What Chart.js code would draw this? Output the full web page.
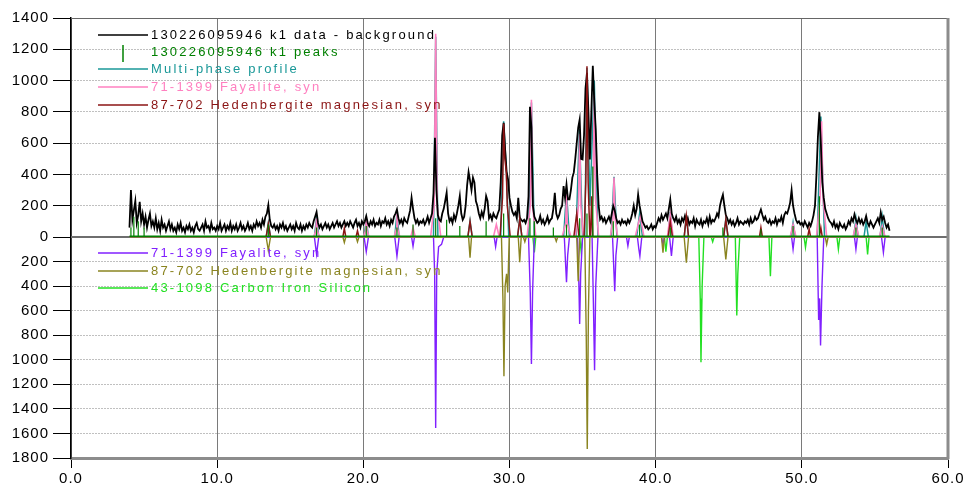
<!DOCTYPE html>
<html>
<head>
<meta charset="utf-8">
<script src="https://cdn.jsdelivr.net/npm/chart.js@4.4.1/dist/chart.umd.min.js"></script>
<style>
html, body { margin: 0; padding: 0; background: #fff; }
canvas { display: block; }
</style>
</head>
<body>
<canvas id="xrd" width="965" height="486"></canvas>
<script>
// measured pattern (data - background), 2theta 4.0 .. 56.0 every 0.1 deg
var scanStart = 4.0;
var scanStep = 0.1;
var measured = [
  60, 300, 110, 170, 230, 90, 140, 225, 100, 150,   // 4
  80, 130, 60, 110, 150, 70, 100, 60, 120, 50,      // 5
  90, 40, 110, 60, 80, 40, 70, 100, 50, 80,         // 6
  40, 60, 30, 80, 50, 90, 40, 60, 30, 70,           // 7
  50, 80, 40, 60, 30, 70, 90, 50, 40, 60,           // 8
  80, 40, 100, 60, 70, 40, 90, 50, 60, 40,          // 9
  70, 50, 90, 40, 60, 80, 40, 70, 50, 90,           // 10
  40, 70, 50, 80, 40, 60, 90, 50, 70, 40,           // 11
  60, 90, 50, 70, 40, 80, 60, 100, 70, 90,          // 12
  60, 110, 80, 130, 150, 205, 110, 70, 60, 80,      // 13
  50, 70, 40, 80, 60, 90, 50, 70, 40, 60,           // 14
  80, 50, 70, 40, 90, 60, 50, 80, 40, 70,           // 15
  50, 80, 60, 90, 70, 60, 100, 130, 160, 90,        // 16
  60, 80, 50, 70, 90, 60, 80, 50, 70, 90,           // 17
  60, 80, 100, 70, 90, 60, 80, 100, 70, 90,         // 18
  70, 100, 80, 60, 90, 110, 70, 90, 60, 100,        // 19
  80, 100, 134, 90, 70, 100, 80, 110, 70, 90,       // 20
  80, 110, 70, 100, 90, 120, 80, 100, 70, 110,      // 21
  90, 130, 150, 177, 120, 90, 110, 80, 120, 100,    // 22
  90, 130, 170, 252, 180, 120, 90, 110, 80, 100,    // 23
  90, 110, 80, 100, 130, 90, 120, 150, 280, 635,    // 24
  300, 140, 110, 100, 150, 180, 230, 283, 150, 100, // 25
  120, 90, 140, 110, 150, 200, 262, 150, 110, 130,  // 26
  200, 330, 415, 360, 300, 380, 349, 230, 200, 150, // 27
  120, 160, 130, 180, 262, 230, 120, 140, 110, 150, // 28
  130, 120, 150, 176, 350, 650, 730, 560, 420, 368, // 29
  250, 200, 160, 140, 157, 120, 250, 125, 110, 100, // 30
  110, 90, 120, 260, 833, 700, 200, 130, 110, 90,   // 31
  100, 135, 90, 110, 80, 100, 130, 90, 110, 120,    // 32
  180, 283, 150, 120, 140, 180, 200, 326, 250, 336, // 33
  240, 240, 300, 380, 413, 500, 600, 700, 751, 500, // 34
  496, 650, 950, 1050, 800, 496, 800, 1095, 868, 687, // 35
  400, 200, 113, 130, 100, 120, 90, 110, 130, 100,  // 36
  150, 198, 170, 120, 90, 100, 80, 110, 90, 100,    // 37
  80, 110, 90, 113, 150, 200, 140, 180, 271, 200,   // 38
  150, 100, 80, 60, 70, 49, 60, 80, 50, 70,         // 39
  60, 90, 120, 100, 140, 110, 130, 150, 120, 180,   // 40
  240, 150, 120, 100, 130, 90, 110, 80, 120, 100,   // 41
  134, 90, 120, 80, 100, 90, 120, 70, 110, 90,      // 42
  80, 110, 70, 100, 90, 120, 80, 130, 90, 110,      // 43
  100, 120, 150, 130, 200, 240, 270, 200, 140, 120, // 44
  90, 110, 80, 100, 70, 90, 120, 80, 100, 90,       // 45
  80, 100, 90, 110, 80, 120, 90, 100, 130, 110,     // 46
  120, 150, 176, 140, 110, 130, 100, 90, 110, 80,   // 47
  100, 90, 120, 80, 110, 100, 130, 90, 140, 160,    // 48
  150, 180, 220, 300, 200, 150, 110, 90, 100, 80,   // 49
  90, 70, 100, 80, 60, 90, 70, 100, 140, 200,       // 50
  400, 640, 798, 600, 350, 250, 180, 150, 120, 100, // 51
  90, 70, 100, 60, 80, 50, 90, 70, 60, 80,          // 52
  50, 70, 100, 80, 120, 100, 145, 110, 90, 120,     // 53
  90, 110, 80, 100, 134, 90, 70, 100, 80, 60,       // 54
  80, 100, 120, 90, 157, 110, 130, 90, 60, 80,      // 55
  40                                                // 56
];

// peak search result: positions and marker heights
var peakPos = [4.1, 4.3, 4.6, 5.0, 13.5, 16.8, 20.2, 22.3, 23.4, 24.95, 25.7, 26.6, 28.4, 29.6, 31.4,
               31.7, 33.0, 33.9, 34.8, 35.3, 35.7, 37.1, 38.9, 41.0, 44.6, 47.2, 49.4, 51.2, 53.7, 55.5];
var peakHt  = [60, 130, 100, 60, 80, 60, 70, 60, 80, 120, 110, 70, 100, 150, 120,
               100, 60, 80, 120, 150, 450, 100, 80, 60, 60, 50, 70, 260, 60, 60];

// multi-phase profile
var profilePts = [[4,0],[13.35,0],[13.5,90],[13.65,0],[16.65,0],[16.8,125],[16.95,0],[20.05,0],[20.2,115],[20.35,0],
  [22.15,0],[22.3,155],[22.45,0],[24.8,0],[24.95,1280],[25.1,0],[27.15,0],[27.3,105],[27.45,0],[29.4,0],[29.6,740],
  [29.78,430],[29.95,0],[30.55,0],[30.7,120],[30.85,0],[31.3,0],[31.5,860],[31.7,0],[33.7,0],[33.9,290],[34.1,0],
  [34.55,0],[34.78,690],[35.0,0],[35.15,0],[35.3,1080],[35.5,200],[35.8,1000],[36.05,0],[36.95,0],[37.15,385],
  [37.35,0],[38.7,0],[38.9,150],[39.1,0],[40.85,0],[41.0,160],[41.15,0],[41.95,0],[42.1,140],[42.25,0],[44.65,0],
  [44.8,115],[44.95,0],[49.25,0],[49.4,95],[49.55,0],[51.05,0],[51.3,770],[51.55,0],[53.55,0],[53.7,120],[53.85,0],
  [54.25,0],[54.4,100],[54.55,0],[55.35,0],[55.5,130],[55.65,0],[56,0]];

// 71-1399 Fayalite, syn (fitted, upper)
var fayalitePts = [[4,0],[16.6,0],[16.75,40],[16.8,120],[16.85,40],[17.0,0],[20.0,0],[20.15,40],[20.2,110],[20.25,40],
  [20.4,0],[22.1,0],[22.25,50],[22.3,150],[22.35,50],[22.5,0],[23.25,0],[23.4,60],[23.55,0],[24.6,0],[24.85,200],
  [24.95,1300],[25.05,200],[25.3,0],[28.9,0],[29.1,80],[29.3,0],[31.2,0],[31.42,200],[31.5,878],[31.58,200],[31.8,0],
  [33.6,0],[33.85,90],[33.9,280],[33.95,90],[34.2,0],[34.5,0],[34.72,200],[34.8,660],[34.88,200],[35.05,0],[35.5,0],
  [35.72,250],[35.8,910],[35.88,250],[36.1,0],[36.9,0],[37.08,120],[37.15,380],[37.22,120],[37.4,0],[38.6,0],
  [38.85,100],[38.95,134],[39.2,0],[40.8,0],[41.0,145],[41.2,0],[49.2,0],[49.4,80],[49.6,0],[51.0,0],[51.25,250],
  [51.35,740],[51.45,250],[51.7,0],[53.5,0],[53.7,80],[53.9,0],[55.3,0],[55.5,70],[55.7,0],[56,0]];

// 87-702 Hedenbergite magnesian, syn (fitted, upper)
var hedenPts = [[4,0],[13.35,0],[13.5,85],[13.65,0],[18.6,0],[18.7,55],[18.8,0],[19.5,0],[19.6,40],[19.7,0],
  [27.15,0],[27.3,100],[27.45,0],[29.35,0],[29.52,250],[29.6,725],[29.68,500],[29.78,420],[29.85,200],[30.05,0],
  [30.55,0],[30.7,115],[30.85,0],[34.4,0],[34.6,150],[34.75,0],[35.1,0],[35.22,350],[35.3,1091],[35.38,350],
  [35.5,0],[35.55,0],[35.62,260],[35.7,0],[40.85,0],[41.0,100],[41.15,0],[41.95,0],[42.1,134],[42.25,0],[44.65,0],
  [44.8,112],[44.95,0],[47.1,0],[47.2,60],[47.3,0],[50.4,0],[50.5,50],[50.6,0],[51.2,0],[51.3,60],[51.4,0],[56,0]];

// reference patterns, drawn downward
var fayaliteRef = [[4,0],[16.65,0],[16.8,-140],[16.95,0],[20.05,0],[20.2,-120],[20.35,0],[22.15,0],[22.3,-155],
  [22.45,0],[23.3,0],[23.4,-75],[23.5,0],[24.8,0],[24.88,-300],[24.95,-1555],[25.02,-300],[25.15,-80],[25.35,-60],
  [25.5,0],[28.95,0],[29.05,-80],[29.15,0],[31.3,0],[31.42,-450],[31.5,-1035],[31.58,-450],[31.7,0],[33.75,0],
  [33.85,-250],[33.9,-368],[33.98,-150],[34.1,0],[34.65,0],[34.75,-400],[34.8,-708],[34.87,-300],[35.0,0],[35.65,0],
  [35.75,-600],[35.82,-1085],[35.9,-400],[36.05,0],[37.05,0],[37.15,-300],[37.2,-442],[37.28,-150],[37.4,0],
  [38.0,0],[38.1,-73],[38.2,0],[38.75,0],[38.85,-100],[38.92,-155],[39.05,0],[40.4,0],[40.5,-60],[40.6,0],[40.95,0],
  [41.08,-155],[41.2,0],[49.3,0],[49.4,-100],[49.5,0],[51.05,0],[51.15,-675],[51.22,-500],[51.28,-883],[51.38,-400],
  [51.5,0],[53.6,0],[53.7,-100],[53.8,0],[55.45,0],[55.58,-127],[55.7,0],[56,0]];

var hedenRef = [[4,0],[13.35,0],[13.5,-110],[13.65,0],[18.6,0],[18.7,-45],[18.8,0],[19.5,0],[19.6,-40],[19.7,0],
  [27.2,0],[27.3,-168],[27.4,0],[29.45,0],[29.55,-500],[29.62,-1134],[29.7,-400],[29.8,-300],[29.88,-452],[29.98,0],
  [30.6,0],[30.7,-205],[30.8,0],[30.95,0],[31.05,-40],[31.15,0],[33.1,0],[33.2,-35],[33.3,0],[34.6,0],[34.7,-360],
  [34.8,0],[35.15,0],[35.25,-800],[35.32,-1726],[35.4,-600],[35.5,0],[40.4,0],[40.5,-127],[40.6,0],[41.95,0],
  [42.1,-210],[42.25,0],[44.65,0],[44.8,-182],[44.95,0],[51.6,0],[51.7,-60],[51.8,0],[56,0]];

var carbonRef = [[4,0],[31.6,0],[31.7,-125],[31.8,0],[34.8,0],[34.9,-117],[35.0,0],[40.6,0],[40.7,-120],[40.8,0],
  [42.95,0],[43.05,-500],[43.1,-1021],[43.18,-400],[43.3,0],[43.8,0],[43.9,-40],[44.0,0],[45.45,0],[45.55,-640],
  [45.62,-300],[45.75,0],[47.75,0],[47.85,-320],[47.95,0],[50.15,0],[50.25,-85],[50.35,0],[52.4,0],[52.5,-100],
  [52.6,0],[54.4,0],[54.5,-142],[54.6,0],[56,0]];

var xTicks = [0, 10, 20, 30, 40, 50, 60];

function pts(list) {
  return list.map(function (p) { return {x: p[0], y: p[1]}; });
}

var measuredData = measured.map(function (v, i) {
  return {x: +(scanStart + i * scanStep).toFixed(2), y: v};
});

var peakData = [{x: 4, y: 0}];
for (var i = 0; i < peakPos.length; i++) {
  peakData.push({x: peakPos[i], y: 0}, {x: peakPos[i], y: peakHt[i]}, {x: peakPos[i], y: 0});
}
peakData.push({x: 56, y: 0});

var FONT = 'Liberation Sans';

var legendRows = [
  {text: '130226095946 k1 data - background', color: '#000000', y: 35, tick: false},
  {text: '130226095946 k1 peaks', color: '#008000', y: 52, tick: true},
  {text: 'Multi-phase profile', color: '#1a9898', y: 69, tick: false},
  {text: '71-1399 Fayalite, syn', color: '#ff80c0', y: 87, tick: false},
  {text: '87-702 Hedenbergite magnesian, syn', color: '#8b1414', y: 105, tick: false},
  {text: '71-1399 Fayalite, syn', color: '#8020ff', y: 253, tick: false},
  {text: '87-702 Hedenbergite magnesian, syn', color: '#8a8420', y: 271, tick: false},
  {text: '43-1098 Carbon Iron Silicon', color: '#22e022', y: 288, tick: false}
];

var framePlugin = {
  id: 'frame',
  beforeDraw: function (chart) {
    chart.ctx.letterSpacing = '1px';
  },
  beforeDatasetsDraw: function (chart) {
    var ctx = chart.ctx, a = chart.chartArea;
    var y0 = chart.scales.yTop.getPixelForValue(0);
    ctx.save();
    ctx.strokeStyle = '#6e6e6e';
    ctx.lineWidth = 2;
    ctx.beginPath();
    ctx.moveTo(a.left, y0);
    ctx.lineTo(a.right, y0);
    ctx.stroke();
    ctx.lineWidth = 1;
    ctx.strokeStyle = '#666';
    ctx.beginPath();
    ctx.moveTo(a.left, a.top + 0.5);
    ctx.lineTo(a.right, a.top + 0.5);
    ctx.stroke();
    ctx.lineWidth = 3;
    ctx.strokeStyle = '#8c8c8c';
    ctx.beginPath();
    ctx.moveTo(a.right, a.top);
    ctx.lineTo(a.right, a.bottom + 1);
    ctx.stroke();
    ctx.restore();
  },
  afterDraw: function (chart) {
    var ctx = chart.ctx;
    ctx.save();
    ctx.letterSpacing = '2.2px';
    ctx.font = '13px "' + FONT + '"';
    ctx.textBaseline = 'middle';
    ctx.textAlign = 'left';
    legendRows.forEach(function (r) {
      ctx.strokeStyle = r.color;
      ctx.lineWidth = 1.5;
      ctx.beginPath();
      if (r.tick) {
        ctx.moveTo(123, r.y - 7);
        ctx.lineTo(123, r.y + 10);
      } else {
        ctx.moveTo(98, r.y);
        ctx.lineTo(148, r.y);
      }
      ctx.stroke();
      ctx.fillStyle = r.color;
      ctx.fillText(r.text, 151, r.y);
    });
    ctx.restore();
  }
};

function lineSet(label, data, color, width, order, axis) {
  return {
    label: label,
    data: data,
    borderColor: color,
    borderWidth: width,
    pointRadius: 0,
    tension: 0,
    fill: false,
    order: order,
    yAxisID: axis
  };
}

var peaksSet = lineSet('130226095946 k1 peaks', peakData, '#008000', 1.2, 0, 'yTop');
peaksSet.segment = {
  borderWidth: function (c) { return (c.p0.parsed.y === 0 && c.p1.parsed.y === 0) ? 3 : 1.2; }
};

var yGrid = {color: '#808080', lineWidth: 1, tickLength: 18, tickColor: '#000', tickWidth: 1};
var yTicks = {color: '#000', font: {family: FONT, size: 15}, padding: 4, stepSize: 200, autoSkip: false};

new Chart(document.getElementById('xrd'), {
  type: 'line',
  data: {
    datasets: [
      peaksSet,
      lineSet('87-702 Hedenbergite magnesian, syn', pts(hedenPts), '#8b1414', 1.5, 1, 'yTop'),
      lineSet('130226095946 k1 data - background', measuredData, '#000000', 1.8, 2, 'yTop'),
      lineSet('71-1399 Fayalite, syn', pts(fayalitePts), '#ff80c0', 1.6, 3, 'yTop'),
      lineSet('Multi-phase profile', pts(profilePts), '#1a9898', 1.5, 4, 'yTop'),
      lineSet('87-702 Hedenbergite magnesian, syn', pts(hedenRef), '#8a8420', 1.4, 5, 'yBot'),
      lineSet('71-1399 Fayalite, syn', pts(fayaliteRef), '#8020ff', 1.4, 6, 'yBot'),
      lineSet('43-1098 Carbon Iron Silicon', pts(carbonRef), '#22e022', 1.4, 7, 'yBot')
    ]
  },
  options: {
    responsive: false,
    animation: false,
    layout: {padding: {top: 18, right: 17, left: 0, bottom: 0}},
    plugins: {legend: {display: false}, tooltip: {enabled: false}},
    scales: {
      x: {
        type: 'linear', min: 0, max: 60,
        afterBuildTicks: function (s) { s.ticks = xTicks.map(function (v) { return {value: v}; }); },
        ticks: {color: '#000', font: {family: FONT, size: 15}, padding: 2, maxRotation: 0, autoSkip: false,
                callback: function (v) { return Number(v).toFixed(1); }},
        grid: {color: '#7a7a7a', lineWidth: 1, tickLength: 10, tickColor: '#000'},
        border: {color: '#8c8c8c', width: 3},
        afterFit: function (s) { s.height = 28; }
      },
      // declared before yTop so the stack places it underneath
      yBot: {
        type: 'linear', position: 'left', stack: 'y', stackWeight: 221, min: -1800, max: 0,
        ticks: Object.assign({}, yTicks, {callback: function (v) { return v === 0 ? '' : String(Math.abs(v)); }}),
        grid: yGrid,
        border: {color: '#000', width: 1.5, dash: [1, 2]},
        afterFit: function (s) { s.width = 71; }
      },
      yTop: {
        type: 'linear', position: 'left', stack: 'y', stackWeight: 219, min: 0, max: 1400,
        ticks: Object.assign({}, yTicks, {callback: function (v) { return String(v); }}),
        grid: yGrid,
        border: {color: '#000', width: 1.5, dash: [1, 2]},
        afterFit: function (s) { s.width = 71; }
      }
    }
  },
  plugins: [framePlugin]
});
</script>
</body>
</html>
